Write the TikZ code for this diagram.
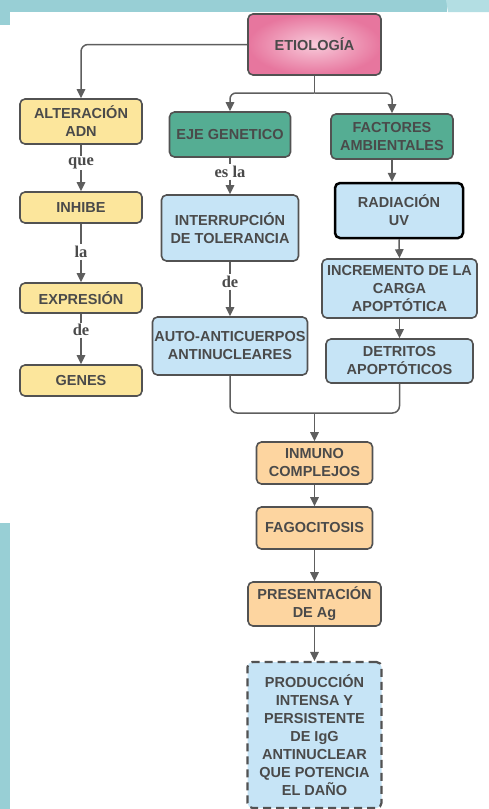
\documentclass[tikz,border=0pt]{standalone}
\usepackage{fontspec}
\setmainfont{Liberation Sans}
\newfontfamily\labfont{Liberation Serif}
\usetikzlibrary{arrows.meta}
\definecolor{barA}{HTML}{98CFD5}
\definecolor{barB}{HTML}{B3DEE3}
\definecolor{txt}{HTML}{4A4A4A}
\definecolor{lin}{HTML}{5E5E5E}
\definecolor{boxline}{HTML}{525252}
\definecolor{yel}{HTML}{FCE69C}
\definecolor{teal}{HTML}{55AD93}
\definecolor{lblue}{HTML}{C6E4F6}
\definecolor{orng}{HTML}{FDD5A0}
\definecolor{pinkin}{HTML}{F8CADA}
\definecolor{pinkout}{HTML}{E7769E}
\begin{document}
\begin{tikzpicture}[x=1pt,y=-1pt,
  box/.style={draw=boxline, line width=1.6pt, rounded corners=5pt, align=center, inner sep=0pt,
    font=\bfseries\fontsize{14.5}{18}\selectfont, text=txt},
  yb/.style={box, fill=yel},
  tb/.style={box, fill=teal},
  bb/.style={box, fill=lblue},
  ob/.style={box, fill=orng},
  conn/.style={draw=lin, line width=1.5pt},
  arr/.style={conn, -{Triangle[length=9pt,width=8.5pt]}},
  lab/.style={font=\labfont\bfseries\fontsize{16.5}{18}\selectfont, text=txt, inner sep=1.5pt}
]
\useasboundingbox (0,0) rectangle (489,809);
% background bars
\fill[barA] (0,0) rectangle (447,12);
\fill[barB] (446,0) -- (489,0) -- (489,12) -- (448,12) -- cycle;
\fill[barA] (0,0) rectangle (10,25);
\fill[barA] (0,523) rectangle (10,809);

% nodes
\node[box, shading=radial, inner color=pinkin, outer color=pinkout, minimum width=133pt, minimum height=61pt] (etio) at (314.5,44.5) {ETIOLOGÍA};

\node[yb, minimum width=122pt, minimum height=45pt] (alt) at (81,121.5) {ALTERACIÓN\\ADN};
\node[yb, minimum width=122pt, minimum height=31pt] (inh) at (81,207.5) {INHIBE};
\node[yb, minimum width=122pt, minimum height=30pt] (expr) at (81,298) {EXPRESIÓN};
\node[yb, minimum width=122pt, minimum height=31pt] (genes) at (81,380.5) {GENES};

\node[tb, minimum width=121pt, minimum height=45pt] (eje) at (230,134.5) {EJE GENETICO};
\node[bb, minimum width=137pt, minimum height=66pt] (interr) at (230,228) {INTERRUPCIÓN\\DE TOLERANCIA};
\node[bb, minimum width=155pt, minimum height=58pt] (auto) at (230,346) {AUTO-ANTICUERPOS\\ANTINUCLEARES};

\node[tb, minimum width=122pt, minimum height=45pt] (fact) at (392,136.5) {FACTORES\\AMBIENTALES};
\node[bb, draw=black, line width=2.5pt, minimum width=128pt, minimum height=55pt] (rad) at (399,210.5) {RADIACIÓN\\UV};
\node[bb, minimum width=155pt, minimum height=59pt] (incr) at (399.5,288.5) {INCREMENTO DE LA\\CARGA\\APOPTÓTICA};
\node[bb, minimum width=147pt, minimum height=44pt] (detr) at (399.5,361) {DETRITOS\\APOPTÓTICOS};

\node[ob, minimum width=116pt, minimum height=42pt] (inm) at (314.5,463) {INMUNO\\COMPLEJOS};
\node[ob, minimum width=116pt, minimum height=42pt] (fago) at (314.5,528) {FAGOCITOSIS};
\node[ob, minimum width=133pt, minimum height=44pt] (pres) at (314.5,604) {PRESENTACIÓN\\DE Ag};
\node[bb, dash pattern=on 8pt off 5pt, line width=2.2pt, minimum width=134pt, minimum height=146pt] (prod) at (314.5,735) {PRODUCCIÓN\\INTENSA Y\\PERSISTENTE\\DE IgG\\ANTINUCLEAR\\QUE POTENCIA\\EL DAÑO};

% labels
\node[lab] (que) at (81,163) {que};
\node[lab] (la) at (81,252) {la};
\node[lab] (de1) at (81,330) {de};
\node[lab] (esla) at (230,172) {es la};
\node[lab] (de2) at (230,282) {de};

% junctions
\coordinate (j1) at (314.5,93);
\coordinate (j2) at (314.5,413);

% connectors
\draw[arr, rounded corners=7pt] (etio.west) -| (alt.north);
\draw[conn] (etio.south) -- (j1);
\draw[arr, rounded corners=6pt] (j1) -| (eje.north);
\draw[arr, rounded corners=6pt] (j1) -| (fact.north);

\draw[conn] (alt.south) -- (que.north);
\draw[arr] (que.south) -- (inh.north);
\draw[conn] (inh.south) -- (la.north);
\draw[arr] (la.south) -- (expr.north);
\draw[conn] (expr.south) -- (de1.north);
\draw[arr] (de1.south) -- (genes.north);

\draw[conn] (eje.south) -- (esla.north);
\draw[arr] (esla.south) -- (interr.north);
\draw[conn] (interr.south) -- (de2.north);
\draw[arr] (de2.south) -- (auto.north);

\draw[arr] (fact.south) -- (fact.south |- rad.north);
\draw[arr] (rad.south) -- (incr.north);
\draw[arr] (incr.south) -- (detr.north);

\draw[conn, rounded corners=7pt] (auto.south) |- (j2) -| (detr.south);
\draw[arr] (j2) -- (inm.north);
\draw[arr] (inm.south) -- (fago.north);
\draw[arr] (fago.south) -- (pres.north);
\draw[arr] (pres.south) -- (prod.north);
\end{tikzpicture}
\end{document}
